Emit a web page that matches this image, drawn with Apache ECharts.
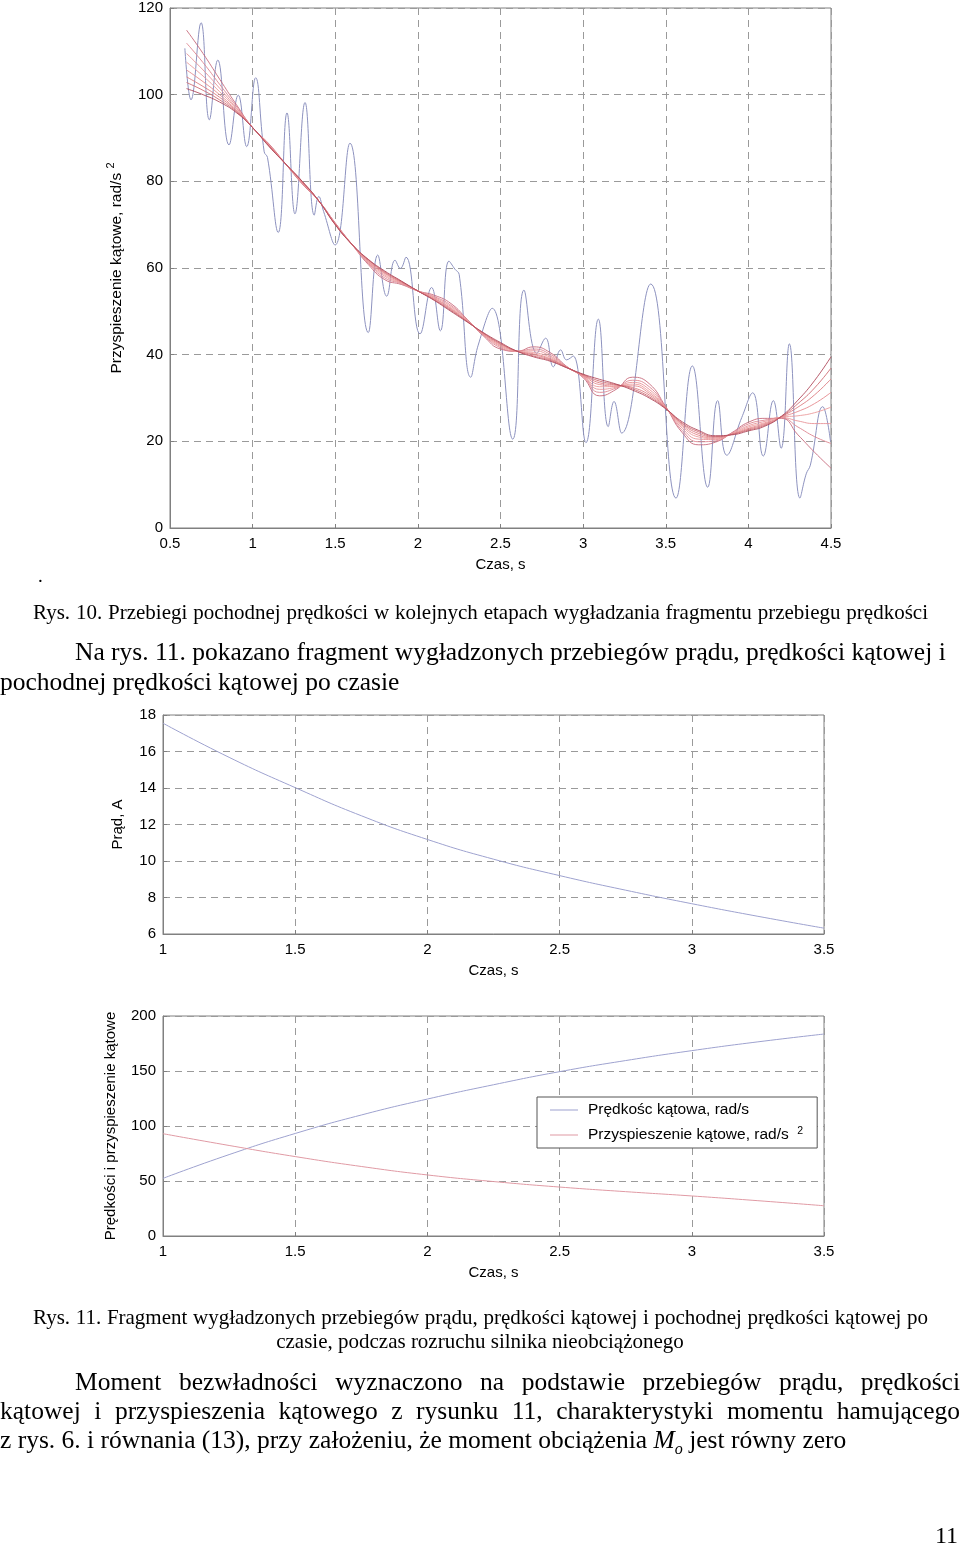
<!DOCTYPE html>
<html><head><meta charset="utf-8">
<script src="https://cdn.jsdelivr.net/npm/echarts@6/dist/echarts.min.js"></script>
<style>
body{margin:0;background:#fff;}
#page{position:relative;width:960px;height:1546px;overflow:hidden;background:#fff;}
#chart{position:absolute;left:0;top:0;width:960px;height:1546px;}
.t{position:absolute;font-family:"Liberation Serif","DejaVu Serif",serif;color:#000;white-space:nowrap;}
.j{text-align:justify;text-align-last:justify;}
.cap{font-size:21px;line-height:24px;}
.par{font-size:25.5px;line-height:30px;}
</style></head><body>
<div id="page">
<div id="chart"></div>
<div class="t" style="left:38px;top:566px;font-size:19px;line-height:20px">.</div>
<div class="t j cap" style="left:33px;top:600px;width:895px">Rys. 10. Przebiegi pochodnej prędkości w kolejnych etapach wygładzania fragmentu przebiegu prędkości</div>
<div class="t j par" style="left:75px;top:637px;width:870px">Na rys. 11. pokazano fragment wygładzonych przebiegów prądu, prędkości kątowej i</div>
<div class="t par" style="left:0px;top:667px">pochodnej prędkości kątowej po czasie</div>
<div class="t j cap" style="left:33px;top:1305px;width:895px">Rys. 11. Fragment wygładzonych przebiegów prądu, prędkości kątowej i pochodnej prędkości kątowej po</div>
<div class="t cap" style="left:0px;top:1329px;width:960px;text-align:center">czasie, podczas rozruchu silnika nieobciążonego</div>
<div class="t j par" style="left:75px;top:1367px;width:885px">Moment bezwładności wyznaczono na podstawie przebiegów prądu, prędkości</div>
<div class="t j par" style="left:0px;top:1396px;width:960px">kątowej i przyspieszenia kątowego z rysunku 11, charakterystyki momentu hamującego</div>
<div class="t par" style="left:0px;top:1425px">z rys. 6. i równania (13), przy założeniu, że moment obciążenia <i>M<sub style="font-size:16px">o</sub></i> jest równy zero</div>
<div class="t" style="left:900px;top:1520px;width:58px;text-align:right;font-size:24px;line-height:30px">11</div>
</div>
<script>
// ---------- top chart (Rys. 10) ----------
const topXTicks = [0.5, 4.5];
const topYTicks = [0, 120];
const blueT = [0.59,0.627,0.688,0.738,0.789,0.857,0.913,0.964,1.018,1.07,1.09,1.155,1.208,1.256,1.317,1.373,1.40,1.43,1.499,1.589,1.70,1.757,1.811,1.862,1.894,1.928,2.013,2.083,2.136,2.188,2.225,2.25,2.32,2.365,2.45,2.574,2.642,2.72,2.773,2.82,2.864,2.90,2.94,3.017,3.092,3.152,3.187,3.233,3.409,3.562,3.661,3.754,3.814,3.869,3.96,4.026,4.09,4.151,4.198,4.248,4.312,4.35,4.375,4.45,4.497];
const blueV = [110.7,98.8,116.6,94.2,108.0,88.4,99.9,88.0,103.9,86.8,85.5,68.2,95.8,72.5,98.2,72.2,76.5,73.0,65.3,88.8,45.1,63.0,53.5,61.8,59.9,62.5,44.8,55.5,45.5,61.6,59.7,58.5,34.8,42.2,50.7,20.5,54.9,40.3,43.8,37.2,41.1,38.8,39.7,19.7,48.2,23.4,29.2,21.9,56.3,6.9,37.4,9.4,29.4,16.8,25.5,31.2,16.6,29.4,18.4,42.5,6.9,12.5,14.5,28.0,20.0];
const smoothT = [0.6,0.7,0.8,0.9,1.0,1.1,1.2,1.3,1.4,1.5,1.6,1.7,1.8,1.9,2.0,2.1,2.2,2.3,2.4,2.5,2.6,2.7,2.8,2.9,3.0,3.1,3.2,3.3,3.4,3.5,3.6,3.7,3.8,3.9,4.0,4.1,4.2,4.3,4.4,4.5];
const stage1 = [114.9,109.5,103.6,97.8,92.4,88.6,84.0,79.4,75.5,70.4,65.5,60.8,57.3,56.2,54.7,53.7,51.8,48.1,44.2,41.3,40.8,41.8,40.5,37.3,34.7,30.5,32.0,34.8,33.3,28.0,22.0,19.2,19.8,22.0,24.4,25.3,25.3,21.5,17.5,13.8];
const stage2 = [111.9,107.4,102.4,97.4,92.4,88.5,84.0,79.5,75.5,70.3,65.5,61.1,57.7,56.4,54.7,53.4,51.4,48.0,44.4,41.6,40.8,41.3,40.1,37.2,34.9,31.3,32.3,34.1,32.6,27.9,22.5,19.9,20.1,21.9,24.0,24.9,25.4,23.3,21.1,19.5];
const stage3 = [109.5,105.7,101.5,97.0,92.4,88.4,84.0,79.6,75.5,70.2,65.5,61.3,58.1,56.5,54.7,53.2,51.1,47.9,44.5,41.9,40.8,40.9,39.7,37.2,35.0,32.0,32.5,33.6,32.0,27.8,23.0,20.5,20.4,21.8,23.6,24.6,25.5,24.7,24.1,24.1];
const stage4 = [107.5,104.3,100.7,96.8,92.4,88.3,84.0,79.7,75.5,70.2,65.5,61.5,58.4,56.6,54.7,53.0,50.8,47.8,44.6,42.1,40.8,40.5,39.4,37.1,35.1,32.6,32.7,33.2,31.5,27.7,23.4,21.0,20.6,21.7,23.3,24.3,25.6,25.9,26.6,27.9];
const stage5 = [105.7,103.0,100.0,96.5,92.4,88.2,84.0,79.8,75.5,70.1,65.5,61.6,58.7,56.7,54.7,52.9,50.6,47.7,44.7,42.3,40.8,40.2,39.1,37.1,35.2,33.1,32.8,32.8,31.1,27.7,23.7,21.4,20.8,21.7,23.0,24.1,25.6,26.9,28.7,31.3];
const stage6 = [104.1,101.9,99.4,96.3,92.4,88.1,84.0,79.9,75.5,70.1,65.5,61.8,58.9,56.8,54.7,52.7,50.4,47.6,44.8,42.5,40.8,40.0,38.9,37.1,35.3,33.5,33.0,32.4,30.7,27.6,24.0,21.8,21.0,21.6,22.8,23.9,25.7,27.9,30.7,34.4];
const stage7 = [102.8,101.0,98.8,96.1,92.4,88.1,84.0,80.0,75.5,70.0,65.5,61.9,59.1,56.9,54.7,52.6,50.2,47.6,44.9,42.6,40.8,39.7,38.7,37.0,35.4,33.9,33.1,32.1,30.3,27.6,24.2,22.2,21.1,21.6,22.6,23.7,25.7,28.7,32.3,36.9];
const stage8 = [101.4,100.0,98.3,95.9,92.4,88.0,84.0,80.0,75.5,70.0,65.5,62.0,59.3,57.0,54.7,52.5,50.0,47.5,45.0,42.8,40.8,39.5,38.5,37.0,35.5,34.3,33.2,31.8,30.0,27.5,24.5,22.5,21.3,21.5,22.4,23.5,25.8,29.5,34.0,39.5];
// ---------- middle and bottom charts (Rys. 11) ----------
const lowT = [1.0,1.25,1.5,1.75,2.0,2.25,2.5,2.75,3.0,3.25,3.5];
const current = [17.55,15.68,14.02,12.48,11.18,10.1,9.2,8.4,7.66,6.97,6.32];
const velocity = [52.4,74.0,93.2,110.0,124.5,137.5,149.4,159.5,168.5,176.5,183.6];
const accel = [93.0,82.3,72.2,63.2,55.5,49.5,44.5,40.3,36.4,32.1,27.5];
const lowXTicks = [1, 3.5];
const curYTicks = [6, 18];
const velYTicks = [0, 200];
const seriesNames = ['Prędkośc kątowa, rad/s', 'Przyspieszenie kątowe, rad/s'];

const stages = [stage1, stage2, stage3, stage4, stage5, stage6, stage7, stage8];
const stageColors = ['#c86a7c','#de8590','#e89498','#eb9b9c','#e68b8e','#dd7d82','#cf6b73','#b04a5c'];

const FONT = 'Liberation Sans';
const lab = {fontFamily: FONT, fontSize: 15, color: '#000'};
const gridLine = {show: true, lineStyle: {color: '#9a9a9a', type: [7, 5], width: 1}};
const axLine = {show: true, lineStyle: {color: '#808080', width: 1}};
const axTick = {show: true, inside: true, length: 4, lineStyle: {color: '#808080'}};

function xAxis(gi, ticks) {
  return {type: 'value', gridIndex: gi, min: ticks[0], max: ticks[1], interval: 0.5,
    axisLine: axLine, axisTick: axTick, splitLine: gridLine,
    axisLabel: Object.assign({margin: 8}, lab),
    name: 'Czas, s', nameLocation: 'middle', nameGap: 29, nameTextStyle: lab};
}
function yAxis(gi, ticks, interval, name, gap, rich) {
  const o = {type: 'value', gridIndex: gi, min: ticks[0], max: ticks[1], interval: interval,
    axisLine: axLine, axisTick: axTick, splitLine: gridLine,
    axisLabel: Object.assign({margin: 7}, lab),
    name: name, nameLocation: 'middle', nameGap: gap, nameTextStyle: Object.assign({}, lab)};
  if (rich) o.nameTextStyle.rich = rich;
  return o;
}
const supRich = {
  m: {fontFamily: FONT, fontSize: 15.5, color: '#000', lineHeight: 20, verticalAlign: 'bottom'},
  s: {fontFamily: FONT, fontSize: 11, color: '#000', lineHeight: 20, verticalAlign: 'top'}
};

const gridBase = {show: true, borderColor: '#808080', borderWidth: 1, containLabel: false, outerBoundsMode: 'none'};

const series = [];
series.push({type: 'line', xAxisIndex: 0, yAxisIndex: 0, data: blueT.map((t, i) => [t, blueV[i]]),
  smooth: 0.45, symbol: 'none', lineStyle: {color: '#8d92bf', width: 1}, z: 2, silent: true});
stages.forEach((st, k) => {
  series.push({type: 'line', xAxisIndex: 0, yAxisIndex: 0, data: smoothT.map((t, i) => [t, st[i]]),
    smooth: 0.5, symbol: 'none', lineStyle: {color: stageColors[k], width: 1, opacity: 0.9}, z: 3 + k, silent: true});
});
series.push({type: 'line', xAxisIndex: 1, yAxisIndex: 1, data: lowT.map((t, i) => [t, current[i]]),
  smooth: 0.5, symbol: 'none', lineStyle: {color: '#9ea2cf', width: 1}, silent: true});
series.push({name: seriesNames[0], type: 'line', xAxisIndex: 2, yAxisIndex: 2, data: lowT.map((t, i) => [t, velocity[i]]),
  smooth: 0.5, symbol: 'none', itemStyle: {color: '#9ea2cf'}, lineStyle: {color: '#9ea2cf', width: 1}, silent: true});
series.push({name: seriesNames[1], type: 'line', xAxisIndex: 2, yAxisIndex: 2, data: lowT.map((t, i) => [t, accel[i]]),
  smooth: 0.5, symbol: 'none', itemStyle: {color: '#e09aa4'}, lineStyle: {color: '#e09aa4', width: 1}, silent: true});

const lineIcon = 'path://M0,0 L0.01,0 L0.01,0.01 Z M0,6.5 L28,6.5 L28,7.5 L0,7.5 Z M28,14 L27.99,14 L27.99,13.99 Z';
const option = {
  animation: false,
  backgroundColor: 'transparent',
  grid: [
    Object.assign({left: 170, top: 8, width: 661, height: 520}, gridBase),
    Object.assign({left: 163, top: 715, width: 661, height: 219}, gridBase),
    Object.assign({left: 163, top: 1016, width: 661, height: 220}, gridBase)
  ],
  xAxis: [xAxis(0, topXTicks), xAxis(1, lowXTicks), xAxis(2, lowXTicks)],
  yAxis: [
    yAxis(0, topYTicks, 20, '{m|Przyspieszenie kątowe, rad/s }{s|2}', 45, supRich),
    yAxis(1, curYTicks, 2, 'Prąd, A', 38),
    yAxis(2, velYTicks, 50, 'Prędkości i przyspieszenie kątowe', 45)
  ],
  legend: {
    data: [{name: seriesNames[0], icon: lineIcon}, {name: seriesNames[1], icon: lineIcon}],
    orient: 'vertical', left: 537, top: 1097,
    itemWidth: 28, itemHeight: 14, itemGap: 8, padding: [5, 14, 5, 13],
    borderColor: '#555', borderWidth: 1, backgroundColor: '#fff', selectedMode: false,
    textStyle: {fontFamily: FONT, fontSize: 15.5, color: '#000', padding: [0, 0, 0, 5],
      rich: {
        m: {fontFamily: FONT, fontSize: 15.5, color: '#000', lineHeight: 18, verticalAlign: 'middle'},
        s: {fontFamily: FONT, fontSize: 10.5, color: '#000', lineHeight: 18, verticalAlign: 'top'}
      }},
    formatter: n => n === seriesNames[1] ? '{m|' + n + '}  {s|2}' : n
  },
  series: series
};
const chart = echarts.init(document.getElementById('chart'), null, {renderer: 'canvas'});
chart.setOption(option);
</script>
</body></html>
